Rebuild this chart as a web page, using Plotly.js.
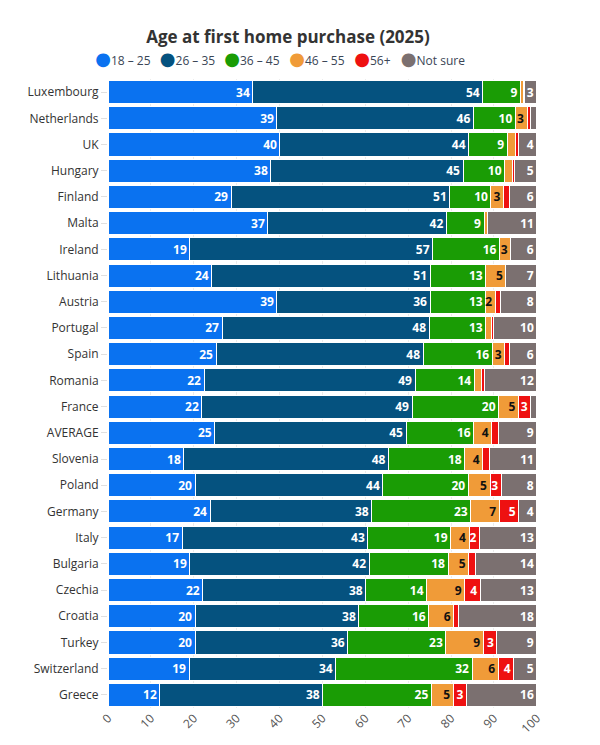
<!DOCTYPE html>
<html>
<head>
<meta charset="utf-8">
<script src="https://cdn.plot.ly/plotly-3.0.1.min.js"></script>
<style>html,body{margin:0;padding:0;background:#fff;}#chart{width:600px;height:745px;}</style>
</head>
<body>
<div id="chart"></div>
<script>
const countries = ['Luxembourg','Netherlands','UK','Hungary','Finland','Malta','Ireland','Lithuania','Austria','Portugal','Spain','Romania','France','AVERAGE','Slovenia','Poland','Germany','Italy','Bulgaria','Czechia','Croatia','Turkey','Switzerland','Greece'];
const seriesNames = ['18 – 25','26 – 35','36 – 45','46 – 55','56+','Not sure'];
const age18_25 = [33.8,39.4,40.1,38.0,28.7,37.3,19.1,24.2,39.4,26.6,25.2,22.4,21.9,24.9,17.7,20.3,23.8,17.3,19.1,22.1,20.3,20.3,18.9,12.1];
const age26_35 = [53.6,45.8,44.0,44.8,51.0,41.6,56.6,50.9,35.7,48.3,48.3,49.2,49.0,44.6,47.7,43.8,37.7,43.3,41.8,38.0,38.2,35.6,34.2,38.0];
const age36_45 = [8.8,9.8,9.0,9.7,9.6,8.8,15.6,13.0,13.0,13.2,16.1,13.8,20.2,15.8,17.8,19.9,23.1,19.3,18.4,14.2,16.3,22.9,31.8,25.3];
const age46_55 = [0.6,2.7,1.8,1.8,2.9,0.9,2.6,4.7,2.2,1.3,2.9,1.6,4.6,4.2,4.2,5.1,6.6,4.3,4.8,8.9,5.8,8.7,6.1,5.1];
const age56plus = [0.2,0.7,0.8,0.5,1.5,0,0,0,1.3,0.4,1.2,0.7,2.9,1.5,1.5,2.6,4.6,2.4,1.5,3.6,1.1,3.2,3.6,3.1];
const notSure = [3.0,1.6,4.3,5.2,6.3,11.4,6.1,7.2,8.4,10.2,6.3,12.3,1.4,9.0,11.1,8.3,4.2,13.4,14.4,13.2,18.3,9.3,5.4,16.4];
const xTicks = [0,10,20,30,40,50,60,70,80,90,100];

const allSeries = [age18_25, age26_35, age36_45, age46_55, age56plus, notSure];
const colors = ['#0a72f0','#05527f','#1a9c05','#f09b38','#ee1111','#7b7070'];
const textColors = ['#ffffff','#ffffff','#ffffff','#111111','#ffffff','#ffffff'];
const legendX = [-0.1231, 0.0275, 0.1776, 0.3291, 0.4807, 0.5893];

const traces = [];
allSeries.forEach((vals, i) => {
  traces.push({
    type: 'bar',
    orientation: 'h',
    y: countries,
    x: vals,
    name: seriesNames[i],
    showlegend: false,
    marker: {color: colors[i], line: {color: '#ffffff', width: 1}},
    text: vals.map(v => v >= 2 ? String(Math.round(v)) : ''),
    textposition: 'inside',
    insidetextanchor: 'end',
    textangle: 0,
    constraintext: 'none',
    cliponaxis: false,
    textfont: {family: 'Open Sans, sans-serif', size: 12, color: textColors[i], weight: 'bold'},
    hoverinfo: 'x+name'
  });
});
seriesNames.forEach((n, i) => {
  traces.push({
    type: 'scatter', mode: 'markers', x: [null], y: [null],
    name: '<span style="color:' + colors[i] + ';font-size:18px;font-family:DejaVu Sans">●</span>' + n,
    legend: i === 0 ? 'legend' : 'legend' + (i + 1),
    marker: {color: 'rgba(0,0,0,0)', size: 0, opacity: 0, line: {width: 0}},
    showlegend: true, hoverinfo: 'skip'
  });
});

const layout = {
  width: 600, height: 745,
  margin: {l: 108, r: 63, t: 79, b: 37},
  paper_bgcolor: '#ffffff', plot_bgcolor: '#ffffff',
  barmode: 'stack',
  bargap: 0.12,
  font: {family: 'Open Sans, sans-serif', color: '#333333'},
  title: {
    text: '<b>Age at first home purchase (2025)</b>',
    font: {family: 'Open Sans, sans-serif', size: 17, color: '#333333'},
    x: 0.48, xref: 'container', xanchor: 'center',
    y: 0.95, yref: 'container', yanchor: 'middle'
  },
  uniformtext: {mode: 'show', minsize: 12},
  xaxis: {
    range: [0, 100.03], tickvals: xTicks, ticktext: xTicks.map(String),
    tickangle: -45, showgrid: true, gridcolor: '#ececec', zeroline: false,
    ticks: '', tickfont: {family: 'Open Sans, sans-serif', size: 12, color: '#555555'},
    fixedrange: true
  },
  yaxis: {
    autorange: 'reversed', type: 'category',
    ticks: 'outside', ticklen: 6, tickcolor: '#e0e0e0',
    tickfont: {family: 'Open Sans, sans-serif', size: 12, color: '#333333'},
    showgrid: false, zeroline: false, showline: false
  },
  showlegend: true
};
legendX.forEach((lx, i) => {
  const key = i === 0 ? 'legend' : 'legend' + (i + 1);
  layout[key] = {
    orientation: 'h', x: lx, xanchor: 'left', y: 1.0302, yanchor: 'middle',
    font: {family: 'Open Sans, sans-serif', size: 12, color: '#3a4656'},
    itemwidth: 30, bgcolor: 'rgba(0,0,0,0)'
  };
});

Plotly.newPlot('chart', traces, layout, {displayModeBar: false, staticPlot: true});
</script>
</body>
</html>
